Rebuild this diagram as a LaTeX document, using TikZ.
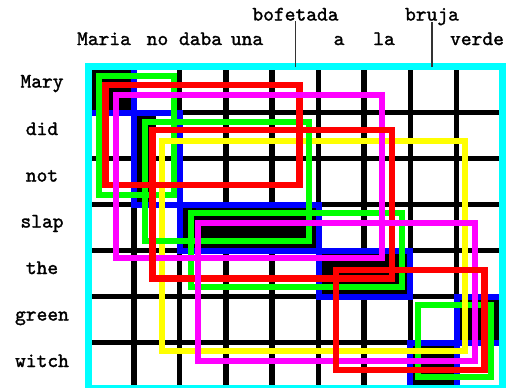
\documentclass[tikz,border=0pt]{standalone}
\usepackage{fontspec}
\newfontfamily\labfont{lmmono10-regular.otf}[FakeBold=1.5]
\definecolor{cyanx}{RGB}{0,255,255}
\definecolor{magx}{RGB}{255,0,255}
\definecolor{yelx}{RGB}{255,255,0}
\definecolor{grnx}{RGB}{0,255,0}
\definecolor{blux}{RGB}{0,0,255}
\definecolor{redx}{RGB}{255,0,0}
\begin{document}
\begin{tikzpicture}[x=1pt,y=-1pt,
  gridline/.style={line width=5.5pt,draw=black},
  cellfill/.style={fill=black},
  bbox/.style={draw=blux,line width=6pt},
  gbox/.style={draw=grnx,line width=6pt},
  rbox/.style={draw=redx,line width=6.5pt},
  mbox/.style={draw=magx,line width=6pt},
  ybox/.style={draw=yelx,line width=6pt},
  cyanframe/.style={draw=cyanx,line width=7pt},
  lab/.style={font=\labfont\fontsize{20.5}{24}\selectfont,inner sep=0pt,anchor=base},
  tickline/.style={draw=black!80,line width=1.4pt}]
\useasboundingbox (0,0) rectangle (506,388);
\fill[white] (0,0) rectangle (506,388);
% grid
\foreach \x in {134,179.5,226,272,318.5,364,410.4,456.5}
  \draw[gridline] (\x,66.5) -- (\x,388.5);
\foreach \y in {112.5,158.5,204.5,250.5,296.5,342.5}
  \draw[gridline] (88,\y) -- (502.5,\y);
% alignment points
\fill[cellfill] (88,66.5) rectangle (134,112.5);
\fill[cellfill] (134,112.5) rectangle (156,204.5);
\fill[cellfill] (179.5,204.5) rectangle (318.5,250.5);
\fill[cellfill] (318.5,250.5) rectangle (410.4,296.5);
\fill[cellfill] (456.5,296.5) rectangle (502.5,342.5);
\fill[cellfill] (410.4,342.5) rectangle (456.5,388.5);
% blue boxes
\draw[bbox] (88,66.5) rectangle (134,112.5);
\draw[bbox] (134,112.5) rectangle (179.5,204.5);
\draw[bbox] (179.5,204.5) rectangle (318.5,250.5);
\draw[bbox] (318.5,250.5) rectangle (410.4,296.5);
\draw[bbox] (456.5,296.5) rectangle (502.5,342.5);
\draw[bbox] (410.4,342.5) rectangle (456.5,388.5);
% coloured phrase boxes
\draw[gbox] (418.3,305) rectangle (491,377);
\draw[gbox] (99,75.5) rectangle (173.5,194.5);
\draw[ybox] (162.3,141.3) rectangle (465,351.2);
\draw[gbox] (144.5,121.5) rectangle (309,240.5);
\draw[gbox] (190.5,213) rectangle (402,287);
\draw[rbox] (105.7,85) rectangle (299.7,185);
\draw[mbox] (116.2,94.7) rectangle (382,258.3);
\draw[rbox] (152.3,130) rectangle (392,278.3);
\draw[mbox] (198.3,222.5) rectangle (474.5,361.2);
\draw[rbox] (336,270) rectangle (484.5,370);
% frame
\draw[cyanframe] (88,66.5) rectangle (502.5,388.5);
\coordinate (ftop) at (0,66.5);
% column labels
\node[lab] (c1) at (104,45) {Maria};
\node[lab] (c2) at (157.5,45) {no};
\node[lab] (c3) at (200.5,45) {daba};
\node[lab] (c4) at (247,45) {una};
\node[lab] (c5) at (295.5,20.5) {bofetada};
\node[lab] (c6) at (339,45) {a};
\node[lab] (c7) at (384,45) {la};
\node[lab] (c8) at (432,20.5) {bruja};
\node[lab] (c9) at (477,45) {verde};
\draw[tickline] (c5.south) -- (c5.south |- ftop);
\draw[tickline] ([yshift=-1.5pt]c8.base) -- (c8.base |- ftop);
% row labels
\node[lab] (r1) at (42,87.5) {Mary};
\node[lab] (r2) at (42,135) {did};
\node[lab] (r3) at (42,181.5) {not};
\node[lab] (r4) at (42,227.5) {slap};
\node[lab] (r5) at (42,274) {the};
\node[lab] (r6) at (42,320.5) {green};
\node[lab] (r7) at (42,367) {witch};
\end{tikzpicture}
\end{document}
